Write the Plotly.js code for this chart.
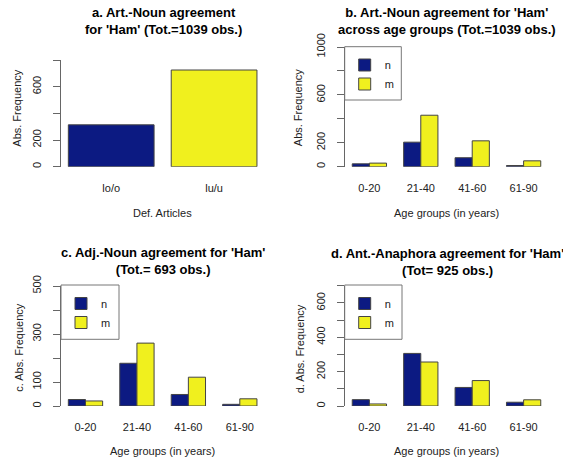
<!DOCTYPE html>
<html>
<head>
<meta charset="utf-8">
<script src="https://cdn.plot.ly/plotly-3.0.1.min.js"></script>
<style>
html,body{margin:0;padding:0;background:#fff;}
#chart{width:563px;height:461px;}
</style>
</head>
<body>
<div id="chart"></div>
<script>
// ---- data ----
const articleCategories = ['lo/o', 'lu/u'];
const articleCounts = [314, 725];

const ageGroups = ['0-20', '21-40', '41-60', '61-90'];
const seriesNames = ['n', 'm'];

const artNoun_n = [24, 205, 75, 10];
const artNoun_m = [30, 430, 216, 49];

const adjNoun_n = [27, 178, 48, 7];
const adjNoun_m = [21, 262, 120, 30];

const antAna_n = [37, 306, 108, 22];
const antAna_m = [12, 256, 148, 36];

const tickValsA = [0, 200, 400, 600, 800];
const tickTextA = ['0', '200', '', '600', ''];
const tickValsB = [0, 200, 400, 600, 800, 1000];
const tickTextB = ['0', '200', '', '600', '', '1000'];
const tickValsC = [0, 100, 200, 300, 400, 500];
const tickTextC = ['0', '100', '', '300', '', '500'];
const tickValsD = [0, 100, 200, 300, 400, 500, 600, 700];
const tickTextD = ['0', '', '200', '', '400', '', '600', ''];

const titleA = "a. Art.-Noun agreement<br>for 'Ham' (Tot.=1039 obs.)";
const titleB = "b. Art.-Noun agreement for 'Ham'<br>across age groups (Tot.=1039 obs.)";
const titleC = "c. Adj.-Noun agreement for 'Ham'<br>(Tot.= 693 obs.)";
const titleD = "d. Ant.-Anaphora agreement for 'Ham'<br>(Tot= 925 obs.)";
const xTitleA = 'Def. Articles';
const xTitleAge = 'Age groups (in years)';
const yTitleA = 'Abs. Frequency';
const yTitleB = 'Abs. Frequency';
const yTitleC = 'c. Abs. Frequency';
const yTitleD = 'd. Abs. Frequency';

// ---- styles ----
const W = 563, H = 461;
const NAVY = '#0c1a82';
const YELLOW = '#f0f01e';
const BORDER = '#444444';
const FONT = 'Liberation Sans, Arial, Helvetica, sans-serif';
const px = x => x / W;
const py = y => 1 - y / H;

const barLine = {color: BORDER, width: 1};

function groupedTraces(nVals, mVals, xa, ya, legendId) {
  return [
    {type: 'bar', x: ageGroups, y: nVals, name: seriesNames[0], xaxis: xa, yaxis: ya,
     width: 1/3, offset: -1/3, marker: {color: NAVY, line: barLine},
     legend: legendId, hoverinfo: 'skip'},
    {type: 'bar', x: ageGroups, y: mVals, name: seriesNames[1], xaxis: xa, yaxis: ya,
     width: 1/3, offset: 0, marker: {color: YELLOW, line: barLine},
     legend: legendId, hoverinfo: 'skip'}
  ];
}

const traces = [
  {type: 'bar', x: articleCategories, y: articleCounts, xaxis: 'x', yaxis: 'y',
   width: 1/1.2, marker: {color: [NAVY, YELLOW], line: barLine},
   showlegend: false, hoverinfo: 'skip'},
  ...groupedTraces(artNoun_n, artNoun_m, 'x2', 'y2', 'legend'),
  ...groupedTraces(adjNoun_n, adjNoun_m, 'x3', 'y3', 'legend2'),
  ...groupedTraces(antAna_n, antAna_m, 'x4', 'y4', 'legend3')
];

function xAxis(domL, domR, range, anchor, standoff) {
  return {domain: [px(domL), px(domR)], range: range, type: 'category', anchor: anchor,
    showline: false, showgrid: false, zeroline: false, ticks: '',
    ticklabelstandoff: standoff,
    tickfont: {family: FONT, size: 11, color: '#222'}, fixedrange: true};
}
function yAxis(top, bottom, max, vals, text, anchor) {
  return {domain: [py(bottom), py(top)], range: [0, max], anchor: anchor,
    showline: true, linecolor: '#666', linewidth: 1,
    ticks: 'outside', ticklen: 7, tickcolor: '#666', tickwidth: 1,
    tickvals: vals, ticktext: text, tickangle: -90, ticklabelstandoff: 7,
    showgrid: false, zeroline: false,
    tickfont: {family: FONT, size: 11, color: '#222'}, fixedrange: true};
}

const titleFont = {family: FONT, size: 13, color: '#000', weight: 'bold'};
const labFont = {family: FONT, size: 11, color: '#222'};

function ann(text, x, y, font, angle) {
  return {text: text, x: px(x), y: py(y), xref: 'paper', yref: 'paper',
    showarrow: false, xanchor: 'center', yanchor: 'middle', font: font,
    textangle: angle || 0};
}

function legendBox(l, t, r, b) {
  return {type: 'rect', xref: 'paper', yref: 'paper', x0: px(l), x1: px(r), y0: py(b), y1: py(t),
    line: {color: '#777', width: 1}, fillcolor: 'rgba(0,0,0,0)'};
}
function legendCfg(l, t) {
  return {x: px(l), y: py(t), xanchor: 'left', yanchor: 'top', bgcolor: 'rgba(0,0,0,0)',
    borderwidth: 0, font: {family: FONT, size: 11, color: '#222'}, traceorder: 'normal',
    itemclick: false, itemdoubleclick: false};
}

const layout = {
  width: W, height: H,
  margin: {l: 0, r: 0, t: 0, b: 0},
  paper_bgcolor: '#fff', plot_bgcolor: 'rgba(0,0,0,0)',
  font: {family: FONT},
  showlegend: true,
  barmode: 'group', bargap: 1/3, bargroupgap: 0,
  xaxis: xAxis(60.8, 264.5, [-0.49, 1.49], 'y', 13),
  yaxis: yAxis(60, 166.7, 800, tickValsA, tickTextA, 'x'),
  xaxis2: xAxis(344.7, 548.3, [-0.48, 3.48], 'y2', 13),
  yaxis2: yAxis(47, 166.7, 1000, tickValsB, tickTextB, 'x2'),
  xaxis3: xAxis(60.8, 264.5, [-0.48, 3.48], 'y3', 13),
  yaxis3: yAxis(286, 406, 500, tickValsC, tickTextC, 'x3'),
  xaxis4: xAxis(344.7, 548.3, [-0.48, 3.48], 'y4', 13),
  yaxis4: yAxis(285.7, 406, 700, tickValsD, tickTextD, 'x4'),
  legend: legendCfg(344.7, 50.5),
  legend2: legendCfg(61, 289),
  legend3: legendCfg(344.7, 289),
  shapes: [
    legendBox(344.7, 46.7, 401.3, 100),
    legendBox(61, 285, 119, 339.3),
    legendBox(344.7, 285, 402, 339.3)
  ],
  annotations: [
    ann(titleA, 163, 21.5, titleFont),
    ann(titleB, 447, 21.5, titleFont),
    ann(titleC, 163, 261, titleFont),
    ann(titleD, 447, 262, titleFont),
    ann(xTitleA, 162.7, 212.7, labFont),
    ann(xTitleAge, 446.5, 212.5, labFont),
    ann(xTitleAge, 162.7, 451, labFont),
    ann(xTitleAge, 446.5, 451, labFont),
    ann(yTitleA, 16.7, 108, labFont, -90),
    ann(yTitleB, 298.7, 107.5, labFont, -90),
    ann(yTitleC, 18.3, 347.5, labFont, -90),
    ann(yTitleD, 300.3, 349, labFont, -90)
  ]
};

Plotly.newPlot('chart', traces, layout, {displayModeBar: false, staticPlot: true});
</script>
</body>
</html>
